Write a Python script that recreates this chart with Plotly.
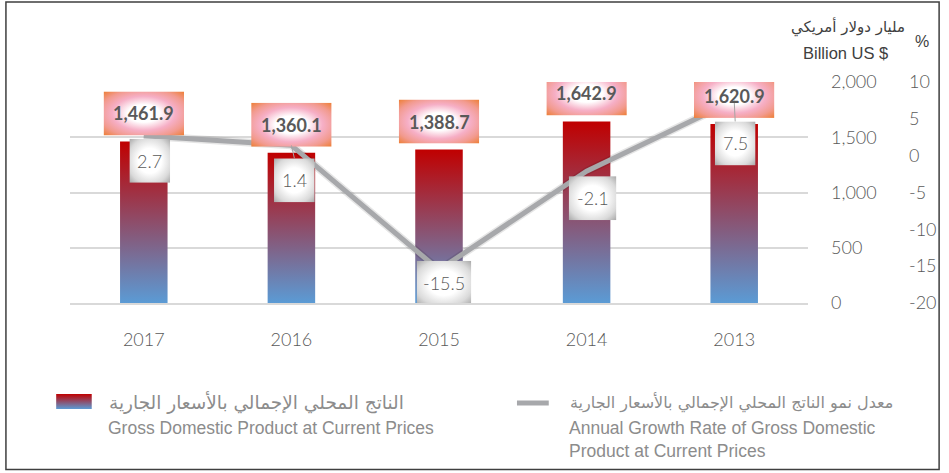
import base64
import plotly.graph_objects as go

# ---------------- data ----------------
years = ["2017", "2016", "2015", "2014", "2013"]
gdp = [1461.9, 1360.1, 1388.7, 1642.9, 1620.9]
growth = [2.7, 1.4, -15.5, -2.1, 7.5]
gdp_labels = ["1,461.9", "1,360.1", "1,388.7", "1,642.9", "1,620.9"]
growth_labels = ["2.7", "1.4", "-15.5", "-2.1", "7.5"]
y1_ticks = [0, 500, 1000, 1500, 2000]
y2_ticks = [-20, -15, -10, -5, 0, 5, 10]

# ---------------- layout constants (pixels) ----------------
W, H = 949, 473
L, R, T, B = 70, 813, 82, 303          # plot area edges in px
Y1_RANGE = [0, 2000]
Y2_RANGE = [-20, 10]
X_RANGE = [-0.5, len(years) - 0.5]
PW, PH = R - L, B - T
XPX = (X_RANGE[1] - X_RANGE[0]) / PW   # x data units per px
Y1PX = (Y1_RANGE[1] - Y1_RANGE[0]) / PH
Y2PX = (Y2_RANGE[1] - Y2_RANGE[0]) / PH

BAR_HALF = 0.161
# label offsets (style, px) for growth labels, as placed in the original
GROWTH_DX = [6, 3, 5, 6, 1]
GROWTH_DY = [25, 35, 13, 27, 43]

GREY_TXT = "#595959"
FONT = "Lato, 'Open Sans', sans-serif"


def px(x):
    return (x - L) / PW


def py(y):
    return (B - y) / PH


def svg_uri(svg):
    return "data:image/svg+xml;base64," + base64.b64encode(svg.encode()).decode()


ORANGE_BOX = svg_uri(
    "<svg xmlns='http://www.w3.org/2000/svg' width='100' height='100' viewBox='0 0 100 100' preserveAspectRatio='none'>"
    "<defs><radialGradient id='g' cx='50%' cy='50%' r='71%'>"
    "<stop offset='0' stop-color='#FFFFFF'/><stop offset='0.28' stop-color='#FFFFFF'/>"
    "<stop offset='0.55' stop-color='#F6AFC6'/><stop offset='0.78' stop-color='#F29A8E'/>"
    "<stop offset='1' stop-color='#ED7D31'/></radialGradient></defs>"
    "<rect width='100' height='100' fill='url(#g)'/></svg>"
)
GREY_BOX = svg_uri(
    "<svg xmlns='http://www.w3.org/2000/svg' width='100' height='100' viewBox='0 0 100 100' preserveAspectRatio='none'>"
    "<defs><radialGradient id='g' cx='50%' cy='50%' r='71%'>"
    "<stop offset='0' stop-color='#FFFFFF'/><stop offset='0.4' stop-color='#FFFFFF'/>"
    "<stop offset='0.75' stop-color='#DADADA'/><stop offset='1' stop-color='#A6A6A6'/>"
    "</radialGradient></defs><rect width='100' height='100' fill='url(#g)'/></svg>"
)
LEG_BAR = svg_uri(
    "<svg xmlns='http://www.w3.org/2000/svg' width='100' height='100' viewBox='0 0 100 100' preserveAspectRatio='none'>"
    "<defs><linearGradient id='g' x1='0' y1='0' x2='0' y2='1'>"
    "<stop offset='0' stop-color='#C00000'/><stop offset='1' stop-color='#5B9BD5'/>"
    "</linearGradient></defs><rect width='100' height='100' fill='url(#g)'/></svg>"
)

fig = go.Figure()

# bars with vertical gradient
for i, v in enumerate(gdp):
    fig.add_trace(go.Scatter(
        x=[i - BAR_HALF, i + BAR_HALF, i + BAR_HALF, i - BAR_HALF, i - BAR_HALF],
        y=[0, 0, v, v, 0],
        fill="toself", mode="lines", line=dict(width=0, color="rgba(0,0,0,0)"),
        fillcolor="#8D4E6B",
        fillgradient=dict(type="vertical", colorscale=[[0, "#5B9BD5"], [1, "#C00000"]],
                          start=0, stop=v),
        showlegend=False, hoverinfo="skip", yaxis="y",
    ))

# growth line (with soft shadow)
fig.add_trace(go.Scatter(x=list(range(len(years))), y=growth, yaxis="y2", mode="lines",
                         line=dict(color="rgba(0,0,0,0.10)", width=8), showlegend=False,
                         hoverinfo="skip"))
fig.add_trace(go.Scatter(x=list(range(len(years))), y=growth, yaxis="y2", mode="lines",
                         line=dict(color="#A7A8AB", width=5), showlegend=False,
                         text=years, hovertemplate="%{text}: %{y}%<extra></extra>"))

images, annotations, shapes = [], [], []

# value labels above bars
BOX_W, BOX_H, GAP = 81, 44, 6
for i, (v, t) in enumerate(zip(gdp, gdp_labels)):
    images.append(dict(source=ORANGE_BOX, xref="x", yref="y", x=i, y=v + GAP * Y1PX,
                       sizex=BOX_W * XPX, sizey=BOX_H * Y1PX, xanchor="center",
                       yanchor="bottom", sizing="stretch", layer="above"))
    annotations.append(dict(text="<b>%s</b>" % t, xref="x", yref="y", x=i, y=v,
                            xanchor="center", yanchor="middle",
                            yshift=GAP + BOX_H / 2, showarrow=False,
                            font=dict(family=FONT, size=18, color=GREY_TXT)))

# growth labels
for i, (v, t) in enumerate(zip(growth, growth_labels)):
    bw = 20 + 7 * len(t)
    bh = 44
    dx, dy = GROWTH_DX[i], GROWTH_DY[i]
    images.append(dict(source=GREY_BOX, xref="x", yref="y2", x=i + dx * XPX,
                       y=v - dy * Y2PX, sizex=bw * XPX, sizey=bh * Y2PX,
                       xanchor="center", yanchor="middle", sizing="stretch", layer="above"))
    annotations.append(dict(text=t, xref="x", yref="y2", x=i, y=v, xshift=dx, yshift=-dy,
                            xanchor="center", yanchor="middle", showarrow=False,
                            font=dict(family=FONT, size=18, color=GREY_TXT, weight=300)))
    lead = dy - bh / 2
    if lead > 8:
        shapes.append(dict(type="line", xref="x", yref="y2", xsizemode="pixel",
                           xanchor=i, x0=0, x1=dx, ysizemode="pixel", yanchor=v,
                           y0=0, y1=-lead, line=dict(color="#A5A5A5", width=1)))


def note(text, x, y, family, size, color, xanchor="center", align="center"):
    return dict(text=text, xref="paper", yref="paper", x=px(x), y=py(y),
                xanchor=xanchor, yanchor="middle", align=align, showarrow=False,
                font=dict(family=family, size=size, color=color))


ARABIC = "DejaVu Sans"
ENG = "Liberation Sans, Arial"

# axis titles (top right)
annotations += [
    note("مليار دولار أمريكي", 853, 27, ARABIC, 15, "#404040"),
    note("Billion US $", 851, 53, ENG, 16.5, "#404040"),
    note("%", 928, 41, ENG, 16, "#404040"),
]

# custom legend
LEG_COL = "#8C8C8C"
images.append(dict(source=LEG_BAR, xref="paper", yref="paper", x=px(56), y=py(394),
                   sizex=36 / PW, sizey=15 / PH, xanchor="left", yanchor="top",
                   sizing="stretch", layer="above"))
shapes.append(dict(type="line", xref="paper", yref="paper", x0=px(520), x1=px(552),
                   y0=py(403), y1=py(403), line=dict(color="#A7A8AB", width=5)))
annotations += [
    note("الناتج المحلي الإجمالي بالأسعار الجارية", 107, 402, ARABIC, 18.5, LEG_COL, "left"),
    note("Gross Domestic Product at Current Prices", 106, 428, ENG, 17.5, LEG_COL, "left"),
    note("معدل نمو الناتج المحلي الإجمالي بالأسعار الجارية", 571, 402, ARABIC, 16, LEG_COL, "left"),
    note("Annual Growth Rate of Gross Domestic<br>Product at Current Prices",
         570, 439, ENG, 17.5, LEG_COL, "left", "left"),
]

# outer frame
shapes.append(dict(type="rect", xref="paper", yref="paper", x0=px(5.5), x1=px(945),
                   y0=py(2), y1=py(469.5), line=dict(color="#3F3F3F", width=1.5),
                   fillcolor="rgba(0,0,0,0)", layer="above"))

TICKFONT = dict(family=FONT, size=18, color=GREY_TXT, weight=300)

fig.update_layout(
    width=W, height=H, autosize=False,
    margin=dict(l=L, r=W - R, t=T, b=H - B, pad=0),
    paper_bgcolor="white", plot_bgcolor="white",
    showlegend=False,
    font=dict(family=FONT, color=GREY_TXT),
    xaxis=dict(range=X_RANGE, tickmode="array", tickvals=list(range(len(years))),
               ticktext=years, showgrid=False, zeroline=False, showline=True,
               linecolor="#D9D9D9", linewidth=1.5, ticks="", ticklabelstandoff=20,
               tickfont=TICKFONT, fixedrange=True),
    yaxis=dict(range=Y1_RANGE, tickmode="array", tickvals=y1_ticks,
               ticktext=[f"{v:,}" for v in y1_ticks], side="right", showgrid=True,
               gridcolor="#D9D9D9", gridwidth=1.5, zeroline=False, showline=False,
               ticks="", ticklabelstandoff=22, tickfont=TICKFONT, fixedrange=True),
    yaxis2=dict(range=Y2_RANGE, tickmode="array", tickvals=y2_ticks,
                ticktext=[str(v) for v in y2_ticks], overlaying="y", side="right",
                showgrid=False, zeroline=False, showline=False, ticks="",
                ticklabelstandoff=100, tickfont=TICKFONT, fixedrange=True),
    images=images, annotations=annotations, shapes=shapes,
)

fig.write_html("out.html", config={"displayModeBar": False})

# remove the browser's default page margin so the chart sits at (0, 0)
with open("out.html", encoding="utf-8") as f:
    html = f.read()
html = html.replace("<head>", "<head><style>html,body{margin:0;padding:0;}</style>", 1)
with open("out.html", "w", encoding="utf-8") as f:
    f.write(html)
